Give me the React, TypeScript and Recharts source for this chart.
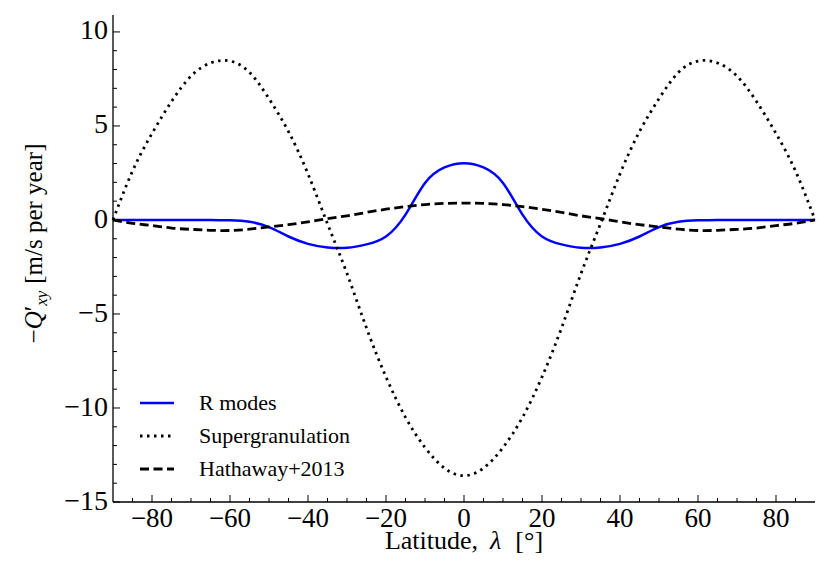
import React from "react";
import { LineChart, Line, XAxis, YAxis, Legend, Label } from "recharts";

// latitude grid, every 5 degrees
const latitude = [
  -90, -85, -80, -75, -70, -65, -60, -55, -50, -45, -40, -35, -30, -25, -20, -15, -10, -5, 0,
  5, 10, 15, 20, 25, 30, 35, 40, 45, 50, 55, 60, 65, 70, 75, 80, 85, 90,
];

// -Q'_xy in m/s per year
const rModes = [
  0, 0, 0, 0, 0, 0, -0.02, -0.1, -0.38, -0.88, -1.27, -1.46, -1.48, -1.3, -0.88, 0.28, 1.97, 2.8, 3.02,
  2.8, 1.97, 0.28, -0.88, -1.3, -1.48, -1.46, -1.27, -0.88, -0.38, -0.1, -0.02, 0, 0, 0, 0, 0, 0,
];
const supergranulation = [
  0, 2.6, 4.6, 6.3, 7.65, 8.35, 8.45, 7.85, 6.45, 4.7, 2.45, -0.2, -2.85, -5.75, -8.35, -10.5, -12.1, -13.2, -13.6,
  -13.2, -12.1, -10.5, -8.35, -5.75, -2.85, -0.2, 2.45, 4.7, 6.45, 7.85, 8.45, 8.35, 7.65, 6.3, 4.6, 2.6, 0,
];
const hathaway2013 = [
  0, -0.18, -0.3, -0.43, -0.5, -0.55, -0.56, -0.49, -0.37, -0.25, -0.1, 0.07, 0.22, 0.4, 0.57, 0.71, 0.82, 0.88, 0.9,
  0.88, 0.82, 0.71, 0.57, 0.4, 0.22, 0.07, -0.1, -0.25, -0.37, -0.49, -0.56, -0.55, -0.5, -0.43, -0.3, -0.18, 0,
];

const seriesOrder = ["R modes", "Supergranulation", "Hathaway+2013"];

const xMajorTicks = [-80, -60, -40, -20, 0, 20, 40, 60, 80];
const xTicks = [
  -85, -80, -75, -70, -65, -60, -55, -50, -45, -40, -35, -30, -25, -20, -15, -10, -5, 0,
  5, 10, 15, 20, 25, 30, 35, 40, 45, 50, 55, 60, 65, 70, 75, 80, 85,
];
const yMajorTicks = [-15, -10, -5, 0, 5, 10];
const yTicks = [
  -15, -14, -13, -12, -11, -10, -9, -8, -7, -6, -5, -4, -3, -2, -1, 0, 1, 2, 3, 4, 5, 6, 7, 8, 9, 10,
];

const data = latitude.map((lat, i) => ({
  lat,
  rModes: rModes[i],
  supergranulation: supergranulation[i],
  hathaway: hathaway2013[i],
}));

const FONT = '"Liberation Serif", "DejaVu Serif", serif';
const MAJOR = 7;
const MINOR = 4;

const fmt = (v: number) => (v < 0 ? `\u2212${Math.abs(v)}` : `${v}`);

const BottomTick = ({ x, y, payload }: any) => {
  const major = xMajorTicks.includes(payload.value);
  return (
    <g>
      <line x1={x} x2={x} y1={y} y2={y - (major ? MAJOR : MINOR)} stroke="#000" strokeWidth={1} />
      {major && (
        <text x={x} y={y + 25} textAnchor="middle" fontSize={27} fontFamily={FONT} fill="#000">
          {fmt(payload.value)}
        </text>
      )}
    </g>
  );
};

const TopTick = ({ x, y, payload }: any) => {
  const major = xMajorTicks.includes(payload.value);
  return <line x1={x} x2={x} y1={y} y2={y + (major ? MAJOR : MINOR)} stroke="#000" strokeWidth={1} />;
};

const LeftTick = ({ x, y, payload }: any) => {
  const major = yMajorTicks.includes(payload.value);
  return (
    <g>
      <line x1={x} x2={x + (major ? MAJOR : MINOR)} y1={y} y2={y} stroke="#000" strokeWidth={1} />
      {major && (
        <text x={x - 5} y={y} dy="0.27em" textAnchor="end" fontSize={28} fontFamily={FONT} fill="#000">
          {fmt(payload.value)}
        </text>
      )}
    </g>
  );
};

const RightTick = ({ x, y, payload }: any) => {
  const major = yMajorTicks.includes(payload.value);
  return <line x1={x} x2={x - (major ? MAJOR : MINOR)} y1={y} y2={y} stroke="#000" strokeWidth={1} />;
};

const YLabel = ({ viewBox }: any) => {
  const cx = viewBox.x + 42;
  const cy = viewBox.y + viewBox.height / 2 - 15;
  return (
    <text
      x={cx}
      y={cy}
      transform={`rotate(-90 ${cx} ${cy})`}
      textAnchor="middle"
      fontSize={25}
      fontFamily={FONT}
      fill="#000"
    >
      <tspan>{"\u2212"}</tspan>
      <tspan fontStyle="italic">Q</tspan>
      <tspan>{"\u2032"}</tspan>
      <tspan fontStyle="italic" fontSize={17} dy={5}>
        xy
      </tspan>
      <tspan dy={-5} dx={7}>
        [m/s per year]
      </tspan>
    </text>
  );
};

const XLabel = ({ viewBox }: any) => (
  <text
    x={viewBox.x + viewBox.width / 2}
    y={viewBox.y + 47}
    textAnchor="middle"
    fontSize={26}
    fontFamily={FONT}
    fill="#000"
  >
    <tspan>Latitude,</tspan>
    <tspan dx={12} fontStyle="italic">
      {"\u03bb"}
    </tspan>
    <tspan dx={14}>[{"\u00b0"}]</tspan>
  </text>
);

const LegendContent = ({ payload }: any) => {
  const items = [...(payload || [])].sort(
    (a: any, b: any) => seriesOrder.indexOf(a.value) - seriesOrder.indexOf(b.value)
  );
  return (
    <div style={{ fontFamily: FONT, fontSize: 22, color: "#000" }}>
      {items.map((entry: any) => (
        <div key={entry.value} style={{ display: "flex", alignItems: "center", height: 32.7 }}>
          <svg width={59} height={12} style={{ flex: "none" }}>
            <line
              x1={0}
              x2={34}
              y1={6}
              y2={6}
              stroke={entry.color}
              strokeWidth={entry.payload?.strokeWidth ?? 2.5}
              strokeDasharray={entry.payload?.strokeDasharray}
            />
          </svg>
          <span style={{ whiteSpace: "nowrap" }}>{entry.value}</span>
        </div>
      ))}
    </div>
  );
};

export default function App() {
  return (
    <div style={{ position: "absolute", left: 0, top: 0, background: "#fff" }}>
      <LineChart width={830} height={581} data={data} margin={{ top: 15, right: 15, bottom: 0, left: 0 }}>
        <XAxis
          xAxisId="b"
          dataKey="lat"
          type="number"
          domain={[-90, 90]}
          ticks={xTicks}
          interval={0}
          height={79}
          tickSize={0}
          tickMargin={0}
          tickLine={false}
          tick={<BottomTick />}
          axisLine={{ stroke: "#000", strokeWidth: 1.3 }}
        >
          <Label content={<XLabel />} />
        </XAxis>
        <XAxis
          xAxisId="t"
          dataKey="lat"
          type="number"
          orientation="top"
          domain={[-90, 90]}
          ticks={xTicks}
          interval={0}
          height={0}
          tickSize={0}
          tickMargin={0}
          tickLine={false}
          tick={<TopTick />}
          axisLine={{ stroke: "#000", strokeWidth: 1.3 }}
        />
        <YAxis
          yAxisId="l"
          type="number"
          domain={[-15, 10.9]}
          ticks={yTicks}
          interval={0}
          width={113}
          tickSize={0}
          tickMargin={0}
          tickLine={false}
          tick={<LeftTick />}
          axisLine={{ stroke: "#000", strokeWidth: 1.3 }}
        >
          <Label content={<YLabel />} />
        </YAxis>
        <YAxis
          yAxisId="r"
          type="number"
          orientation="right"
          domain={[-15, 10.9]}
          ticks={yTicks}
          interval={0}
          width={0}
          tickSize={0}
          tickMargin={0}
          tickLine={false}
          tick={<RightTick />}
          axisLine={{ stroke: "#000", strokeWidth: 1.3 }}
        />
        <Line
          xAxisId="b"
          yAxisId="l"
          name="R modes"
          dataKey="rModes"
          type="natural"
          stroke="#0000ff"
          strokeWidth={2.5}
          dot={false}
          isAnimationActive={false}
        />
        <Line
          xAxisId="b"
          yAxisId="l"
          name="Supergranulation"
          dataKey="supergranulation"
          type="natural"
          stroke="#000"
          strokeWidth={2.8}
          strokeDasharray="2.5 4.5"
          dot={false}
          isAnimationActive={false}
        />
        <Line
          xAxisId="t"
          yAxisId="r"
          name="Hathaway+2013"
          dataKey="hathaway"
          type="natural"
          stroke="#000"
          strokeWidth={2.8}
          strokeDasharray="9 4.5"
          dot={false}
          isAnimationActive={false}
        />
        <Legend
          layout="horizontal"
          verticalAlign="middle"
          align="center"
          content={<LegendContent />}
          wrapperStyle={{ left: 140, top: 387, width: 260, height: 100 }}
        />
      </LineChart>
    </div>
  );
}
